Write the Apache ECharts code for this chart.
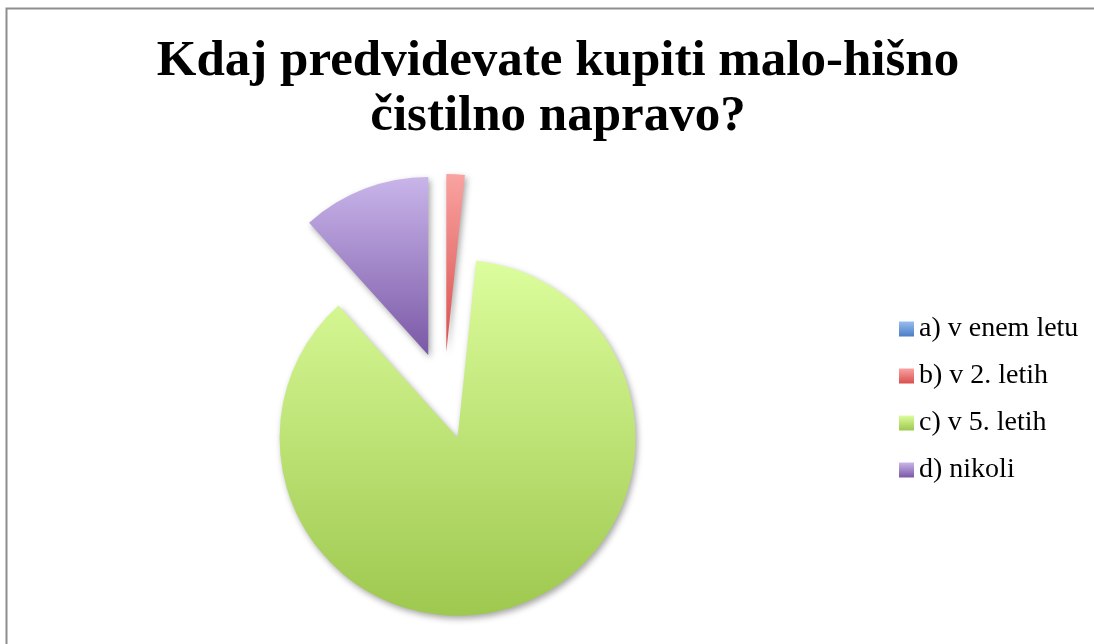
<!DOCTYPE html>
<html>
<head>
<meta charset="utf-8">
<script src="https://cdn.jsdelivr.net/npm/echarts@6/dist/echarts.min.js"></script>
<style>
  html, body { margin: 0; padding: 0; background: #fff; }
  #chart { width: 1094px; height: 644px; }
</style>
</head>
<body>
<div id="chart"></div>
<script>
const titleLines = ['Kdaj predvidevate kupiti malo-hišno', 'čistilno napravo?'];
const categories = ['a) v enem letu', 'b) v 2. letih', 'c) v 5. letih', 'd) nikoli'];
const values = [0, 1, 52, 7];

const gradTop = ['#98bcf2', '#f9a3a1', '#dcfd9c', '#c9b5ea'];
const gradBottom = ['#4a7ec4', '#d84f4d', '#9ec84f', '#7a58a6'];

function grad(i) {
  return {
    type: 'linear', x: 0, y: 0, x2: 0, y2: 1,
    colorStops: [
      { offset: 0, color: gradTop[i] },
      { offset: 1, color: gradBottom[i] }
    ]
  };
}

const chart = echarts.init(document.getElementById('chart'), null, { renderer: 'canvas' });
chart.setOption({
  animation: false,
  backgroundColor: '#ffffff',
  title: {
    text: titleLines.join('\n'),
    left: 553,
    textAlign: 'center',
    top: 29,
    textStyle: {
      fontFamily: 'Liberation Serif',
      fontWeight: 'bold',
      fontSize: 51,
      lineHeight: 55,
      color: '#000'
    }
  },
  legend: {
    orient: 'vertical',
    left: 894,
    top: 310,
    itemWidth: 15,
    itemHeight: 15,
    itemGap: 19,
    icon: 'rect',
    selectedMode: false,
    textStyle: {
      fontFamily: 'Liberation Serif',
      fontSize: 28,
      color: '#000',
      padding: [0, 0, 0, 0]
    },
    data: categories
  },
  graphic: [{
    type: 'rect',
    silent: true,
    shape: { x: 6.5, y: 8.5, width: 1300, height: 900 },
    style: { fill: 'none', stroke: '#8e8e8e', lineWidth: 2 }
  }],
  series: [{
    type: 'pie',
    center: [444, 396],
    radius: 178,
    startAngle: 90,
    clockwise: true,
    selectedMode: 'multiple',
    selectedOffset: 44,
    avoidLabelOverlap: false,
    label: { show: false },
    labelLine: { show: false },
    emphasis: { disabled: true, scale: false },
    select: { itemStyle: { borderWidth: 0 } },
    itemStyle: {
      borderWidth: 0,
      shadowBlur: 6,
      shadowColor: 'rgba(0,0,0,0.35)',
      shadowOffsetX: 2,
      shadowOffsetY: 3
    },
    data: categories.map((c, i) => ({
      name: c,
      value: values[i],
      selected: true,
      itemStyle: { color: grad(i) }
    }))
  }]
});
</script>
</body>
</html>
